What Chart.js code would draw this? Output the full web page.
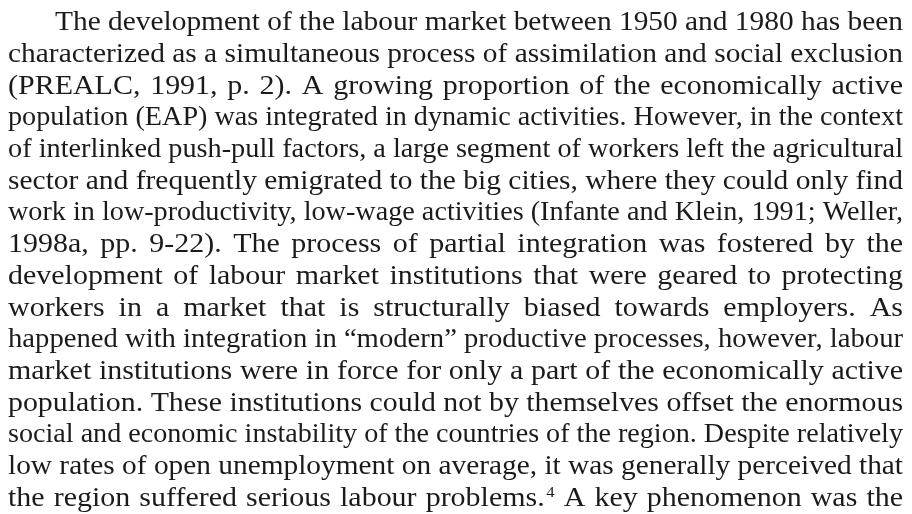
<!DOCTYPE html>
<html>
<head>
<meta charset="utf-8">
<script src="https://cdn.jsdelivr.net/npm/chart.js@4/dist/chart.umd.min.js"></script>
<style>
  html, body { margin: 0; padding: 0; background: #ffffff; }
  #wrap { width: 912px; height: 514px; }
</style>
</head>
<body>
<div id="wrap"><canvas id="c" width="912" height="514"></canvas></div>
<script>
// Paragraph content, one entry per printed line ("^4" marks a superscript note number)
const paragraphLines = [
  "The development of the labour market between 1950 and 1980 has been",
  "characterized as a simultaneous process of assimilation and social exclusion",
  "(PREALC, 1991, p. 2). A growing proportion of the economically active",
  "population (EAP) was integrated in dynamic activities. However, in the context",
  "of interlinked push-pull factors, a large segment of workers left the agricultural",
  "sector and frequently emigrated to the big cities, where they could only find",
  "work in low-productivity, low-wage activities (Infante and Klein, 1991; Weller,",
  "1998a, pp. 9-22). The process of partial integration was fostered by the",
  "development of labour market institutions that were geared to protecting",
  "workers in a market that is structurally biased towards employers. As",
  "happened with integration in \u201cmodern\u201d productive processes, however, labour",
  "market institutions were in force for only a part of the economically active",
  "population. These institutions could not by themselves offset the enormous",
  "social and economic instability of the countries of the region. Despite relatively",
  "low rates of open unemployment on average, it was generally perceived that",
  "the region suffered serious labour problems.^4 A key phenomenon was the"
];
const firstLineIndent = [true];

const FONT_FAMILY = '"Liberation Serif", "Times New Roman", serif';
const FONT_SIZE = 27;
const SUP_SIZE = 15;
const STRETCH = 1.11;
const LEFT = 8, RIGHT = 903, INDENT = 47;
const FIRST_BASELINE = 30.2, LINE_PITCH = 31.7;

function measureWord(ctx, w) {
  const parts = w.split('^');
  ctx.font = FONT_SIZE + 'px ' + FONT_FAMILY;
  let width = ctx.measureText(parts[0]).width;
  if (parts.length > 1) {
    ctx.font = SUP_SIZE + 'px ' + FONT_FAMILY;
    width += 1.5 + ctx.measureText(parts[1]).width;
  }
  return width;
}
function drawWord(ctx, w, x, y) {
  const parts = w.split('^');
  ctx.font = FONT_SIZE + 'px ' + FONT_FAMILY;
  ctx.fillText(parts[0], x, y);
  if (parts.length > 1) {
    const bw = ctx.measureText(parts[0]).width;
    ctx.font = SUP_SIZE + 'px ' + FONT_FAMILY;
    ctx.fillText(parts[1], x + bw + 1.5, y - 9);
  }
}

const paragraphPlugin = {
  id: 'paragraph',
  afterDraw(chart) {
    const ctx = chart.ctx;
    ctx.save();
    ctx.fillStyle = '#1b1b1b';
    ctx.textBaseline = 'alphabetic';
    ctx.textAlign = 'left';
    paragraphLines.forEach((line, i) => {
      const x0 = LEFT + (firstLineIndent[i] ? INDENT : 0);
      const target = RIGHT - x0;
      const y = FIRST_BASELINE + i * LINE_PITCH;
      const words = line.split(' ');
      const widths = words.map(w => measureWord(ctx, w));
      const sumW = widths.reduce((a, b) => a + b, 0);
      ctx.font = FONT_SIZE + 'px ' + FONT_FAMILY;
      const sp = ctx.measureText(' ').width;
      const naturalRaw = sumW + sp * (words.length - 1);
      ctx.save();
      ctx.translate(x0, y);
      let gap = sp;
      if (naturalRaw * STRETCH > target) {
        ctx.scale(target / naturalRaw, 1);
      } else {
        ctx.scale(STRETCH, 1);
        gap = (target / STRETCH - sumW) / (words.length - 1);
      }
      let x = 0;
      words.forEach((w, k) => {
        drawWord(ctx, w, x, 0);
        x += widths[k] + gap;
      });
      ctx.restore();
    });
    ctx.restore();
  }
};

new Chart(document.getElementById('c'), {
  type: 'scatter',
  data: { datasets: [] },
  options: {
    responsive: false,
    animation: false,
    devicePixelRatio: 1,
    plugins: { legend: { display: false }, tooltip: { enabled: false } },
    scales: { x: { display: false }, y: { display: false } }
  },
  plugins: [paragraphPlugin]
});
</script>
</body>
</html>
